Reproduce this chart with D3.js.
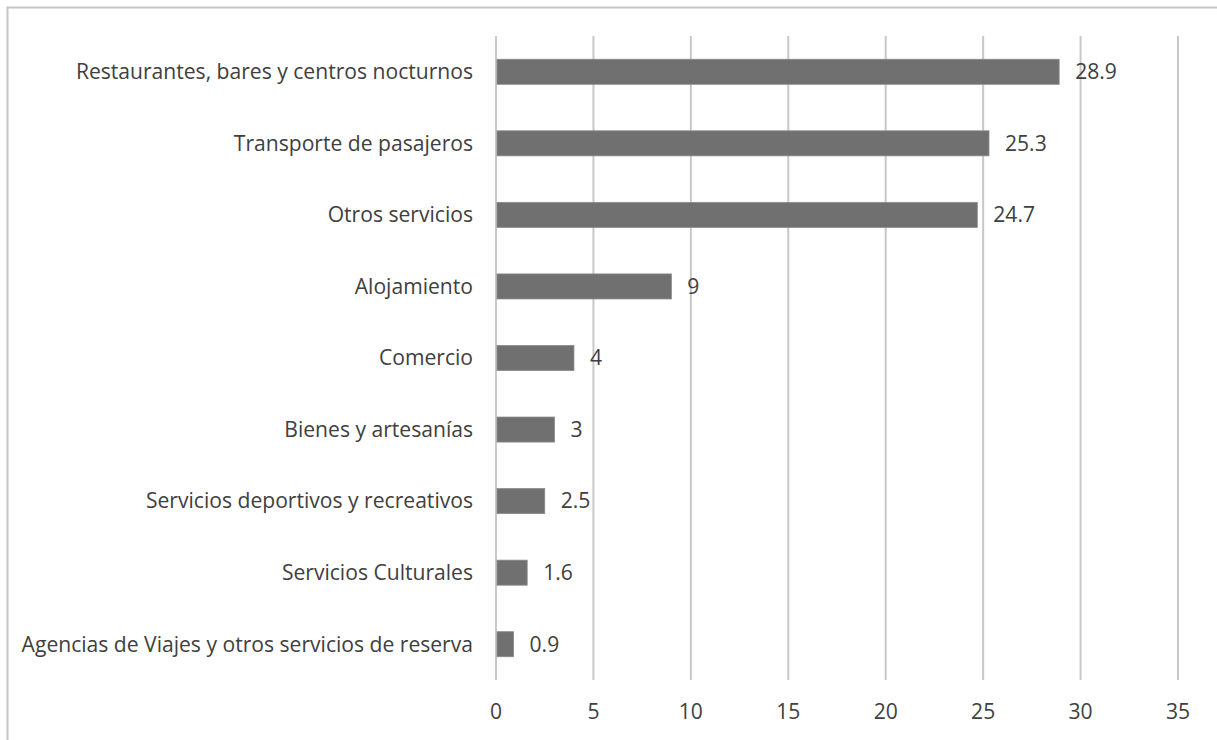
<!DOCTYPE html>
<html><head><meta charset="utf-8">
<script src="https://cdn.jsdelivr.net/npm/d3@7"></script>
<style>body{margin:0;background:#fff;} svg{display:block;}</style>
</head><body>
<svg id="c" width="1217" height="740"></svg>
<script>
const categories = ["Restaurantes, bares y centros nocturnos","Transporte de pasajeros","Otros servicios","Alojamiento","Comercio","Bienes y artesanías","Servicios deportivos y recreativos","Servicios Culturales","Agencias de Viajes y otros servicios de reserva"];
const values = [28.9,25.3,24.7,9,4,3,2.5,1.6,0.9];
const ticks = [0,5,10,15,20,25,30,35];

const svg = d3.select("#c");
const font = "'Open Sans', sans-serif";
const fs = 21.1;
svg.append("rect").attr("x",7.5).attr("y",7.5).attr("width",1300).attr("height",1000)
  .attr("fill","#fff").attr("stroke","#c4c4c4").attr("stroke-width",2);

const x = d3.scaleLinear().domain([0,35]).range([496,1178]);
const y = d3.scaleBand().domain(categories).range([36,680]).paddingInner(0.65).paddingOuter(0.325);

svg.append("g").selectAll("line").data(ticks).join("line")
  .attr("x1",d=>x(d)).attr("x2",d=>x(d)).attr("y1",36).attr("y2",680)
  .attr("stroke","#c8c8c8").attr("stroke-width",2);

const data = categories.map((c,i)=>({c,v:values[i]}));
svg.append("g").selectAll("rect").data(data).join("rect")
  .attr("x",x(0)+1).attr("y",d=>y(d.c)).attr("width",d=>x(d.v)-x(0)-1).attr("height",y.bandwidth())
  .attr("fill","#707070").attr("stroke","#8a8a8a").attr("stroke-width",0.8);

svg.append("g").selectAll("text").data(data).join("text")
  .attr("x",d=>x(d.v)+16).attr("y",d=>y(d.c)+y.bandwidth()/2).attr("dy","0.35em")
  .attr("font-family",font).attr("font-size",fs).attr("fill","#404040").text(d=>d.v);

svg.append("g").selectAll("text").data(data).join("text")
  .attr("x",473).attr("y",d=>y(d.c)+y.bandwidth()/2).attr("dy","0.35em").attr("text-anchor","end")
  .attr("font-family",font).attr("font-size",fs).attr("fill","#404040").text(d=>d.c);

svg.append("g").selectAll("text").data(ticks).join("text")
  .attr("x",d=>x(d)).attr("y",712).attr("dy","0.35em").attr("text-anchor","middle")
  .attr("font-family",font).attr("font-size",fs).attr("fill","#404040").text(d=>d);
</script>
</body></html>
